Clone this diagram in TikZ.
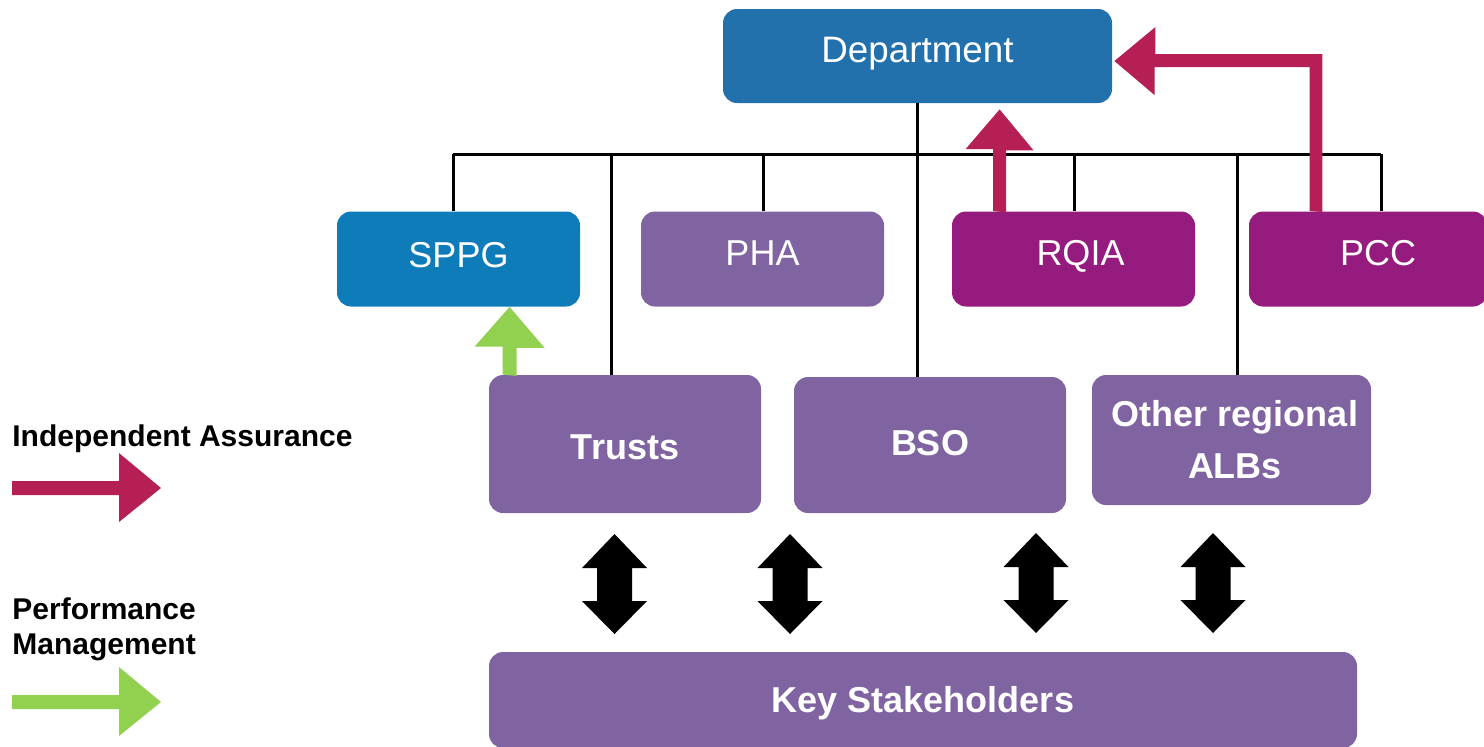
\documentclass[tikz,border=0pt]{standalone}
\usepackage{fontspec}
\setmainfont{Liberation Sans}
\usetikzlibrary{calc}
\definecolor{deptblue}{HTML}{2271AD}
\definecolor{sppgblue}{HTML}{0F7CBA}
\definecolor{albpurple}{HTML}{8064A1}
\definecolor{regmagenta}{HTML}{951B7F}
\definecolor{assurered}{HTML}{B61F56}
\definecolor{perfgreen}{HTML}{92D050}
\tikzset{
  box/.style={rounded corners=7pt, text=white, inner sep=0pt, align=center},
  topbox/.style={box, minimum width=121.5pt, minimum height=47.5pt,
    text height=12.9pt, text depth=6.5pt, font=\fontsize{18pt}{22pt}\selectfont},
  albbox/.style={box, font=\bfseries\fontsize{18pt}{26pt}\selectfont},
  tree/.style={line width=1.5pt, black},
  ia/.style={fill=assurered},
  pm/.style={fill=perfgreen},
  legend/.style={anchor=base west, inner sep=0pt, align=left, font=\bfseries\fontsize{15pt}{17.5pt}\selectfont},
  dblarrow/.pic={
    \fill[black] (0,-50) -- (32.5,-16) -- (17.5,-16) -- (17.5,17) -- (32.5,17)
      -- (0,50) -- (-32.5,17) -- (-17.5,17) -- (-17.5,-16) -- (-32.5,-16) -- cycle;
  }
}
\begin{document}
\begin{tikzpicture}[x=0.5pt, y=-0.5pt]
\useasboundingbox (0,0) rectangle (1484,746);

% organisations
\node[box, fill=deptblue, minimum width=194.5pt, minimum height=47pt,
      text height=13.2pt, text depth=6.5pt,
      font=\fontsize{18.4pt}{22pt}\selectfont] (dept) at (917.5,56) {Department};
\node[topbox, fill=sppgblue, text depth=4pt] (sppg) at (458.5,259) {SPPG};
\node[topbox, fill=albpurple]  (pha)  at (762.5,259) {PHA};
\node[topbox, fill=regmagenta] (rqia) at (1073.5,259) {\hspace*{7pt}RQIA};
\node[topbox, fill=regmagenta, minimum width=119pt] (pcc) at (1368,259) {\hspace*{10pt}PCC};

\node[albbox, fill=albpurple, minimum width=136pt, minimum height=69pt,
      text height=15.9pt, text depth=0pt] (trusts) at (625,444) {Trusts};
\node[albbox, fill=albpurple, minimum width=136pt, minimum height=68pt,
      text height=12.9pt, text depth=2.5pt] (bso) at (930,445) {BSO};
\node[albbox, fill=albpurple, minimum width=139.5pt, minimum height=65pt] (other) at (1231.5,440)
      {\hspace*{3.5pt}Other regional\\\hspace*{3.5pt}ALBs};
\node[albbox, fill=albpurple, minimum width=434pt, minimum height=48pt,
      text height=12.9pt, text depth=0pt] (key) at (923,700) {Key Stakeholders};

% reporting tree
\coordinate (busL) at (453,154);
\coordinate (busR) at (1381,154);
\coordinate (bTr) at (611,154);
\coordinate (bPha) at (763,154);
\coordinate (bRq) at (1074,154);
\coordinate (bOt) at (1237,154);
\draw[tree] (busL) -- (busR);
\draw[tree] (busL) -- (busL |- sppg.north);
\draw[tree] (bTr) -- (bTr |- trusts.north);
\draw[tree] (bPha) -- (bPha |- pha.north);
\draw[tree] (dept.south) -- (dept.south |- bso.north);
\draw[tree] (bRq) -- (bRq |- rqia.north);
\draw[tree] (bOt) -- (bOt |- other.north);
\draw[tree] (busR) -- (busR |- pcc.north);

% independent assurance: RQIA -> Department
\coordinate (ra) at ([xshift=24pt]rqia.north west);
\fill[ia] (ra) ++(-6.5,0) -- ++(0,-62) -- ++(-27.5,0)
  -- ($(ra |- dept.south)+(0,6)$) -- ++(34,41) -- ++(-27.5,0) -- ++(0,62) -- cycle;

% independent assurance: PCC -> Department
\coordinate (pa) at ([xshift=33.5pt]pcc.north west);
\fill[ia] (pa) ++(-6,0) -- ++(0,-144) -- ++(-155,0) -- ++(0,28)
  -- ($(dept.east)+(2,5)$) -- ++(41,-34) -- ++(0,27) -- ++(167,0) -- ++(0,158) -- cycle;

% performance management: Trusts -> SPPG
\coordinate (ga) at ([xshift=10.5pt]trusts.north west);
\fill[pm] (ga) ++(-7,0) -- ++(0,-28) -- ++(-28,0)
  -- (ga |- sppg.south) -- ++(35,41) -- ++(-28,0) -- ++(0,28) -- cycle;

% two-way links with key stakeholders
\pic at (614.5,584) {dblarrow};
\pic at (790,584) {dblarrow};
\pic at (1036,583) {dblarrow};
\pic at (1213,583) {dblarrow};

% legend
\node[legend] (lia) at (12,446) {Independent Assurance};
\coordinate (liaA) at (12,488);
\fill[ia] (liaA) ++(0,-7) -- ++(107,0) -- ++(0,-28) -- ++(42,35) -- ++(-42,34)
  -- ++(0,-27) -- ++(-107,0) -- cycle;

\node[legend] (lpm) at (12,654) {Performance\\Management};
\coordinate (lpmA) at (12,702);
\fill[pm] (lpmA) ++(0,-7) -- ++(107,0) -- ++(0,-28) -- ++(42,35) -- ++(-42,34)
  -- ++(0,-27) -- ++(-107,0) -- cycle;
\end{tikzpicture}
\end{document}
